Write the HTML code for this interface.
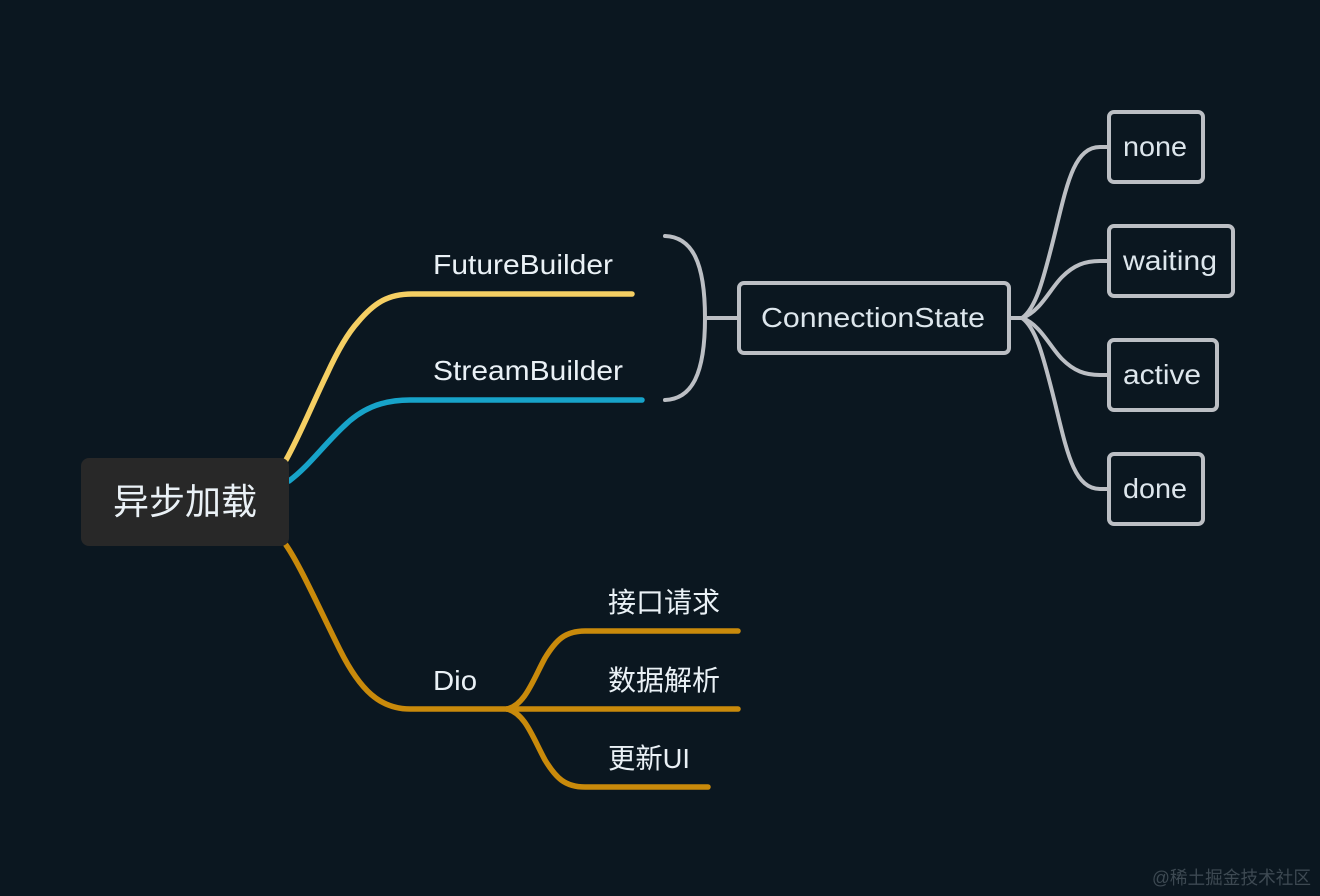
<!DOCTYPE html>
<html><head><meta charset="utf-8">
<style>
html,body{margin:0;padding:0;background:#0b1720;width:1320px;height:896px;overflow:hidden}
svg{display:block}
text{font-family:"Liberation Sans","Noto Sans CJK SC",sans-serif;fill:#eaf1f6;font-size:28px}
text.n{fill:#dde6ec}
</style></head>
<body>
<svg width="1320" height="896" viewBox="0 0 1320 896" xmlns="http://www.w3.org/2000/svg">
<rect width="1320" height="896" fill="#0b1720"/>
<g fill="none" stroke-linecap="round" stroke-width="5.5">
<path d="M286 460C300 435 312 405 327 374C338 350 348 333 358 322C374 303 388 294 412 294L632 294" stroke="#f5cf63"/>
<path d="M289 481C308 467 322 447 343 427C360 410 380 400 410 400L642 400" stroke="#17a3c9"/>
<path d="M286 545C300 565 320 610 340 650C360 690 380 709 410 709L507 709" stroke="#c98a0b"/>
<path d="M507 709L738 709" stroke="#c98a0b"/>
<path d="M507 709C525 705 533 680 545 658C556 640 565 631 585 631L738 631" stroke="#c98a0b"/>
<path d="M507 709C525 713 533 738 545 760C556 778 565 787 585 787L708 787" stroke="#c98a0b"/>
</g>
<g fill="none" stroke="#bcbfc4" stroke-width="4" stroke-linecap="round">
<path d="M665 236C692 237 705 262 705 318C705 374 692 399 665 400"/>
<path d="M705 318L738 318"/>
<path d="M1010 318L1024 318"/>
<path d="M1022 318C1036 308 1043 280 1052 245C1066 190 1072 147 1100 147L1108 147"/>
<path d="M1022 318C1040 312 1050 289 1062 277C1074 265 1085 261 1100 261L1108 261"/>
<path d="M1022 318C1040 324 1050 347 1062 359C1074 371 1085 375 1100 375L1108 375"/>
<path d="M1022 318C1036 328 1043 356 1052 391C1066 446 1072 489 1100 489L1108 489"/>
</g>
<g fill="#0b1720" stroke="#bcbfc4" stroke-width="4">
<rect x="739" y="283" width="270" height="70" rx="5"/>
<rect x="1109" y="112" width="94" height="70" rx="5"/>
<rect x="1109" y="226" width="124" height="70" rx="5"/>
<rect x="1109" y="340" width="108" height="70" rx="5"/>
<rect x="1109" y="454" width="94" height="70" rx="5"/>
</g>
<rect x="81" y="458" width="208" height="88" rx="8" fill="#282828"/>
<text x="113" y="514" style="font-size:36px" textLength="144" lengthAdjust="spacingAndGlyphs">异步加载</text>
<text x="433" y="274" textLength="180" lengthAdjust="spacingAndGlyphs">FutureBuilder</text>
<text x="433" y="380" textLength="190" lengthAdjust="spacingAndGlyphs">StreamBuilder</text>
<text x="433" y="690" textLength="44" lengthAdjust="spacingAndGlyphs">Dio</text>
<text x="608" y="612" textLength="112" lengthAdjust="spacingAndGlyphs">接口请求</text>
<text x="608" y="690" textLength="112" lengthAdjust="spacingAndGlyphs">数据解析</text>
<text x="608" y="768" textLength="82" lengthAdjust="spacingAndGlyphs">更新UI</text>
<text class="n" x="761" y="327" textLength="224" lengthAdjust="spacingAndGlyphs">ConnectionState</text>
<text class="n" x="1123" y="156" textLength="64" lengthAdjust="spacingAndGlyphs">none</text>
<text class="n" x="1123" y="270" textLength="94" lengthAdjust="spacingAndGlyphs">waiting</text>
<text class="n" x="1123" y="384" textLength="78" lengthAdjust="spacingAndGlyphs">active</text>
<text class="n" x="1123" y="498" textLength="64" lengthAdjust="spacingAndGlyphs">done</text>
<text x="1152" y="884" style="font-size:18px;fill:#3d4952" textLength="159" lengthAdjust="spacingAndGlyphs">@稀土掘金技术社区</text>
</svg>
</body></html>
